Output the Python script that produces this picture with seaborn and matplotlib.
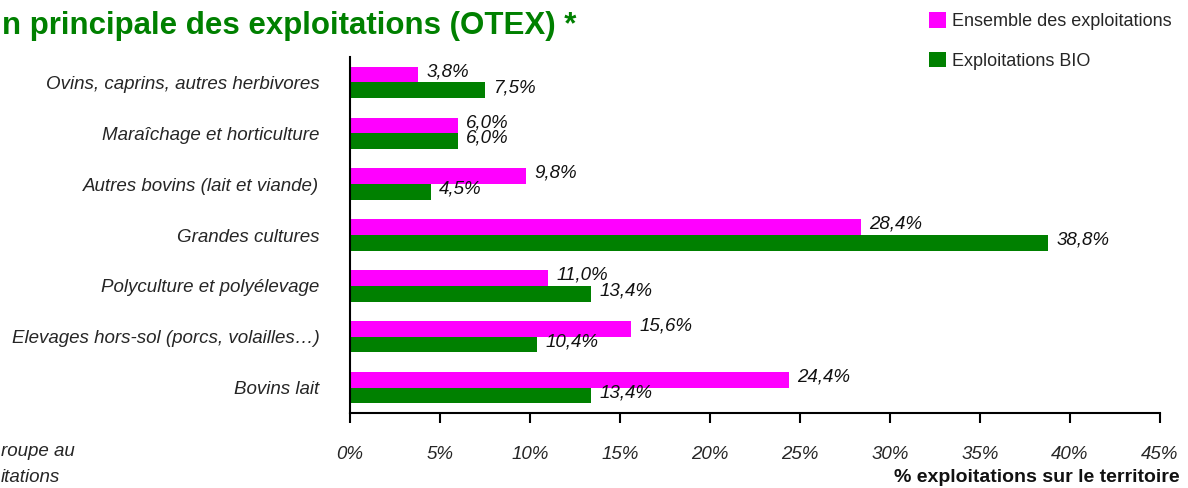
import matplotlib
matplotlib.use("Agg")
import matplotlib.pyplot as plt
import seaborn as sns
import pandas as pd
import numpy as np
from matplotlib.patches import Patch

categories = ["Ovins, caprins, autres herbivores", "Maraîchage et horticulture",
              "Autres bovins (lait et viande)", "Grandes cultures",
              "Polyculture et polyélevage", "Elevages hors-sol (porcs, volailles…)",
              "Bovins lait"]
series = ["Ensemble des exploitations", "Exploitations BIO"]
ensemble = [3.8, 6.0, 9.8, 28.4, 11.0, 15.6, 24.4]
bio = [7.5, 6.0, 4.5, 38.8, 13.4, 10.4, 13.4]
xticks = [0, 5, 10, 15, 20, 25, 30, 35, 40, 45]
colors = ["#FF00FF", "#008000"]

df = pd.DataFrame({
    "cat": categories * 2,
    "serie": [series[0]] * len(categories) + [series[1]] * len(categories),
    "val": ensemble + bio,
})

sns.set_style("white")
plt.rcParams["font.family"] = ["Liberation Sans", "DejaVu Sans"]

FS = 13.5
fig = plt.figure(figsize=(11.88, 4.88), dpi=100)
ax = fig.add_axes([350/1188, 1-413/488, 810/1188, (413-57)/488])

sns.barplot(data=df, y="cat", x="val", hue="serie", orient="h",
            palette=colors, saturation=1, width=0.62, ax=ax, legend=False,
            linewidth=0, edgecolor="none")

for cont in ax.containers:
    for bar in cont:
        w = bar.get_width()
        yc = bar.get_y() + bar.get_height() / 2
        ax.annotate(f"{w:.1f}%".replace(".", ","), (w, yc), xytext=(6, 2),
                    textcoords="offset points", ha="left", va="center",
                    fontsize=FS, style="italic", color="#111111")

ax.set_xlim(0, 45)
ax.set_ylim(len(categories) - 0.5, -0.5)
ax.set_xticks(xticks)
ax.set_xticklabels([f"{t}%" for t in xticks], fontsize=FS, style="italic")
ax.set_yticks(range(len(categories)))
ax.set_yticklabels(categories, fontsize=FS, style="italic")
ax.set_yticks(np.arange(-0.5, len(categories), 1), minor=True)
ax.tick_params(axis="y", which="major", length=0, pad=22)
ax.tick_params(axis="y", which="minor", length=7, width=1.5, direction="out", color="black")
ax.tick_params(axis="x", which="major", length=7, width=1.5, direction="out", color="black", pad=17, bottom=True)
ax.set_xlabel("")
ax.set_ylabel("")
for s in ["top", "right"]:
    ax.spines[s].set_visible(False)
for s in ["left", "bottom"]:
    ax.spines[s].set_color("black")
    ax.spines[s].set_linewidth(1.5)

fig.text(2/1188, 1-26/488, "n principale des exploitations (OTEX) *",
         ha="left", va="center", fontsize=22.5, fontweight="bold", color="#008000")
fig.text(1180/1188, 1-478/488, "% exploitations sur le territoire",
         ha="right", va="center", fontsize=14, fontweight="bold", color="#111111")
fig.text(1/1188, 1-452/488, "roupe au", ha="left", va="center", fontsize=FS, style="italic")
fig.text(1/1188, 1-477/488, "itations", ha="left", va="center", fontsize=FS, style="italic")

handles = [Patch(facecolor=c, edgecolor="none") for c in colors]
fig.legend(handles, series, loc="upper left", bbox_to_anchor=(929/1188, 1-12/488),
           frameon=False, fontsize=13, handlelength=0.95, handleheight=0.95,
           handletextpad=0.3, labelspacing=1.2, borderpad=0, borderaxespad=0)

fig.savefig("out.png", dpi=100)
